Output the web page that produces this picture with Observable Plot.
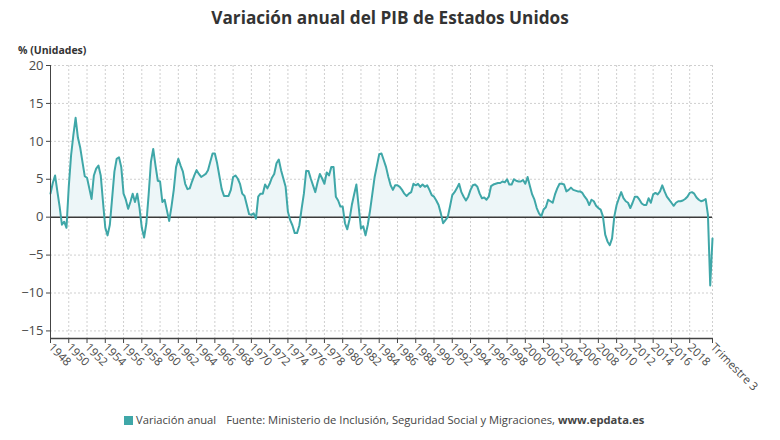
<!DOCTYPE html>
<html lang="es">
<head>
<meta charset="utf-8">
<script src="https://cdn.jsdelivr.net/npm/d3@7"></script>
<script src="https://cdn.jsdelivr.net/npm/@observablehq/plot@0.6"></script>
<style>
  html, body { margin: 0; padding: 0; background: #fff; }
  #wrap { position: relative; width: 780px; height: 440px; font-family: "Open Sans", sans-serif; color: #333; }
  #title { position: absolute; top: 6px; left: 0; width: 780px; text-align: center; font-size: 17.2px; font-weight: 700; color: #333; }
  #unit { position: absolute; top: 43px; left: 18px; font-size: 10.5px; font-weight: 700; color: #333; }
  #chart { position: absolute; top: 42px; left: 0; }
  #legend { position: absolute; top: 412px; left: 124px; font-size: 11.2px; color: #444; white-space: nowrap; }
  #legend .sw { display: inline-block; width: 9px; height: 9px; background: #3fa7a8; vertical-align: -1px; margin-right: 3px; }
  #legend .src { margin-left: 10px; }
</style>
</head>
<body>
<div id="wrap">
  <div id="title">Variación anual del PIB de Estados Unidos</div>
  <div id="chart"></div>
  <div id="unit">% (Unidades)</div>
  <div id="legend"><span class="sw"></span>Variación anual<span class="src">Fuente: Ministerio de Inclusión, Seguridad Social y Migraciones, <b>www.epdata.es</b></span></div>
</div>
<script>
// Quarterly year-on-year change of US GDP (%), first quarter of 1948 to third quarter of 2020
const gdp1940s = [3.1, 4.5, 5.5, 3.4,  1.4, -1.0, -0.6, -1.4];
const gdp1950s = [
  4.0, 8.1, 10.8, 13.1,  10.5, 9.2, 7.3, 5.4,  5.2, 3.8, 2.4, 5.5,  6.4, 6.8, 5.5, 2.0,
  -1.4, -2.4, -1.0, 2.5,  6.0, 7.7, 7.9, 6.6,  3.1, 2.3, 1.1, 2.0,  3.1, 2.0, 3.1, 1.2,
  -1.4, -2.7, -0.8, 3.0,  7.3, 9.0, 6.8, 4.8
];
const gdp1960s = [
  4.7, 2.0, 2.3, 0.9,  -0.5, 1.4, 3.6, 6.6,  7.7, 6.8, 6.0, 4.4,  3.7, 3.8, 4.7, 5.5,
  6.2, 5.7, 5.3, 5.5,  5.7, 6.2, 7.3, 8.4,  8.4, 7.1, 5.4, 3.7,  2.8, 2.8, 2.8, 3.6,
  5.3, 5.5, 5.1, 4.4,  3.1, 2.8, 1.6, 0.4
];
const gdp1970s = [
  0.3, 0.5, -0.2, 2.7,  3.1, 3.1, 4.3, 3.8,  4.4, 5.2, 5.7, 7.1,  7.6, 6.2, 5.1, 4.0,
  0.7, -0.4, -1.1, -2.1,  -2.1, -1.1, 1.1, 3.1,  6.1, 6.1, 5.1, 4.2,  3.3, 4.6, 5.7, 5.1,
  4.4, 5.9, 5.5, 6.6,  6.6, 2.7, 2.2, 1.4
];
const gdp1980s = [
  1.4, -0.8, -1.6, -0.3,  1.6, 3.0, 4.3, 1.4,  -1.5, -1.2, -2.4, -1.0,  0.9, 3.1, 5.3, 6.8,
  8.3, 8.4, 7.5, 6.6,  5.3, 4.2, 3.6, 4.2,  4.2, 4.0, 3.6, 3.1,  2.8, 3.1, 3.3, 4.4,
  4.2, 4.4, 4.0, 4.3,  4.0, 4.2, 3.6, 2.9
];
const gdp1990s = [
  2.7, 2.2, 1.6, 0.5,  -0.8, -0.4, 0.0, 1.4,  2.9, 3.3, 3.8, 4.4,  3.3, 2.7, 2.2, 2.7,
  3.6, 4.2, 4.3, 4.0,  3.1, 2.5, 2.6, 2.3,  2.7, 4.1, 4.3, 4.4,  4.5, 4.5, 4.7, 4.6,
  5.0, 4.3, 4.3, 5.0,  4.8, 4.7, 4.7, 4.9
];
const gdp2000s = [
  4.4, 5.3, 4.1, 3.0,  2.3, 1.2, 0.5, 0.1,  1.0, 1.3, 2.3, 2.1,  1.9, 3.0, 3.8, 4.4,
  4.4, 4.3, 3.4, 3.6,  3.9, 3.6, 3.5, 3.4,  3.4, 3.2, 2.7, 2.3,  1.6, 2.3, 2.1, 1.5,
  1.2, 1.0, 0.1, -2.3,  -3.2, -3.7, -2.8, 0.1
];
const gdp2010s = [
  1.6, 2.5, 3.3, 2.5,  2.1, 1.9, 1.2, 1.9,  2.7, 2.7, 2.3, 1.8,  1.6, 1.6, 2.5, 1.9,
  3.0, 3.2, 3.0, 3.4,  4.2, 3.4, 2.7, 2.3,  1.9, 1.5, 1.9, 2.1,  2.1, 2.2, 2.4, 2.7,
  3.2, 3.3, 3.1, 2.6,  2.3, 2.1, 2.2, 2.4
];
const gdp2020s = [0.3, -9.0, -2.8];

const firstYear = 1948;
const labelYears = [1948, 1950, 1952, 1954, 1956, 1958, 1960, 1962, 1964, 1966, 1968, 1970,
  1972, 1974, 1976, 1978, 1980, 1982, 1984, 1986, 1988, 1990, 1992, 1994, 1996, 1998,
  2000, 2002, 2004, 2006, 2008, 2010, 2012, 2014, 2016, 2018];
const lastLabel = "Trimestre 3";
const yTicks = [-15, -10, -5, 0, 5, 10, 15, 20];
const yDomain = [-16, 20];

const values = [].concat(gdp1940s, gdp1950s, gdp1960s, gdp1970s, gdp1980s, gdp1990s, gdp2000s, gdp2010s, gdp2020s);
const data = values.map((v, i) => ({t: firstYear + i / 4, v}));
const lastT = data[data.length - 1].t;
const xTicks = [...labelYears, lastT];

const teal = "#3fa7a8";
const grid = {stroke: "#cfcfcf", strokeOpacity: 1, strokeDasharray: "2,2", strokeWidth: 1};

const chart = Plot.plot({
  width: 780,
  height: 360,
  marginLeft: 50,
  marginRight: 68,
  marginTop: 23,
  marginBottom: 64,
  style: {fontFamily: "Open Sans, sans-serif", color: "#4a4a4a", background: "transparent"},
  x: {type: "linear", domain: [firstYear, lastT]},
  y: {domain: yDomain},
  marks: [
    Plot.gridY(yTicks, grid),
    Plot.gridX(xTicks, grid),
    Plot.areaY(data, {x: "t", y1: 0, y2: d => Math.max(0, d.v), fill: "#edf6f8", curve: "linear"}),
    Plot.ruleY([0], {stroke: "#3a3a3a", strokeWidth: 1.5}),
    Plot.lineY(data, {x: "t", y: "v", stroke: teal, strokeWidth: 2, strokeLinejoin: "round"}),
    Plot.ruleX([firstYear], {stroke: "#444", strokeWidth: 1}),
    Plot.ruleY([yDomain[0]], {stroke: "#444", strokeWidth: 1.5}),
    Plot.axisY({ticks: yTicks, tickSize: 4, tickPadding: 3, fontSize: 13, stroke: "#444", label: null}),
    Plot.axisX({
      ticks: xTicks,
      tickFormat: d => (d === lastT ? lastLabel : String(d)),
      tickRotate: 45,
      tickSize: 5,
      tickPadding: 2,
      fontSize: 11.5,
      stroke: "#444",
      label: null
    })
  ]
});
document.getElementById("chart").appendChild(chart);
</script>
</body>
</html>
